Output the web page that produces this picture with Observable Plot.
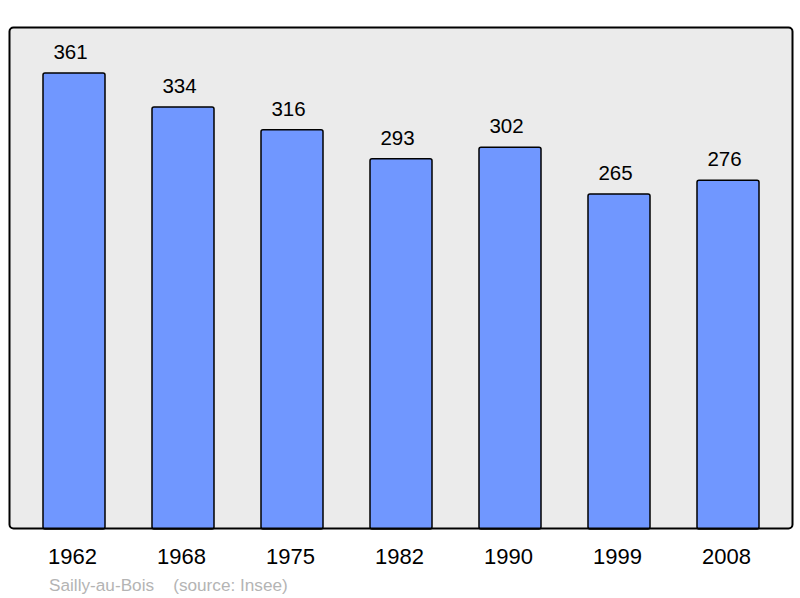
<!DOCTYPE html>
<html><head><meta charset="utf-8">
<script src="https://cdn.jsdelivr.net/npm/d3@7"></script>
<script src="https://cdn.jsdelivr.net/npm/@observablehq/plot@0.6"></script>
<style>
body{margin:0;background:#fff;font-family:"Liberation Sans",Arial,sans-serif;}
#cap{position:absolute;left:49px;top:575px;font-size:17.2px;color:#b4b4b4;white-space:pre;}
</style></head>
<body><div id="chart"></div><div id="cap"></div>
<script>
const years = ["1962","1968","1975","1982","1990","1999","2008"];
const population = [361,334,316,293,302,265,276];
const captionText = "Sailly-au-Bois    (source: Insee)";

const data = years.map((y,i)=>({year:y, pop:population[i]}));

const chart = Plot.plot({
  width: 800,
  height: 570,
  marginTop: 27,
  marginBottom: 42,
  marginLeft: 9,
  marginRight: 8,
  style: {fontFamily: '"Liberation Sans", Arial, sans-serif', background: "white"},
  x: {domain: years, paddingInner: 0.434, paddingOuter: 0.293, label: null},
  y: {domain: [0, 397.5], axis: null},
  marks: [
    Plot.frame({fill: "#ebebeb", stroke: "none", rx: 4}),
    Plot.barY(data, {x: "year", y: "pop", fill: "#7097ff", stroke: "black", strokeWidth: 1.5, rx: 2, insetBottom: -1}),
    Plot.frame({stroke: "black", strokeWidth: 2, rx: 4}),
    Plot.text(data, {x: "year", y: "pop", text: d => String(d.pop), dy: -21, dx: -4, fontSize: 20.5, fill: "black"}),
    Plot.axisX({tickSize: 0, tickPadding: 20, dx: -2, fontSize: 22, fill: "black", label: null})
  ]
});
document.getElementById("chart").appendChild(chart);
document.getElementById("cap").textContent = captionText;
</script></body></html>
